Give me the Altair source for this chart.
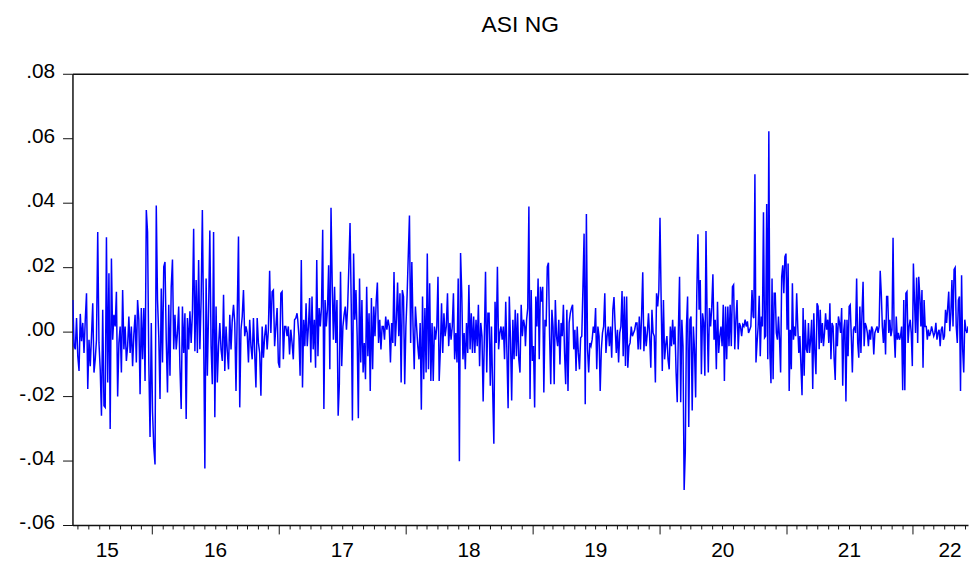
import altair as alt
import pandas as pd

TITLE = "ASI NG"

# Daily returns, in four consecutive stretches
seg_a = [
    0.0098, -0.0045, -0.0055, 0.0042, -0.0076, -0.0122, 0.0055, -0.0030, 0.0027, -0.0066,
    0.0037, 0.0119, -0.0178, -0.0025, -0.0107, -0.0014, 0.0088, -0.0127, -0.0086, -0.0025,
    0.0309, -0.0035, -0.0117, -0.0261, 0.0068, -0.0230, -0.0235, 0.0293, -0.0158, 0.0181,
    -0.0302, 0.0227, -0.0025, 0.0052, 0.0016, 0.0124, -0.0201, -0.0035, 0.0016, -0.0127,
    0.0129, -0.0055, 0.0016, -0.0091, -0.0045, 0.0047, -0.0066, 0.0016, -0.0107, -0.0009,
    0.0052, -0.0096, 0.0098, 0.0037, -0.0194, 0.0073, -0.0086, 0.0073, -0.0153, 0.0377,
    0.0309, -0.0096, -0.0327, 0.0027, -0.0250, -0.0358, -0.0412, 0.0391, 0.0098, -0.0014,
    -0.0209, 0.0134, -0.0096, 0.0201, 0.0216, -0.0025, -0.0189, 0.0083, -0.0137, 0.0139,
    0.0224, -0.0055, 0.0052, -0.0055, -0.0004, 0.0078, -0.0112, -0.0240, 0.0078, -0.0066,
    0.0057, -0.0271, 0.0042, -0.0055, 0.0063, -0.0035, 0.0057, 0.0319, -0.0061, 0.0160,
    -0.0066, 0.0222, -0.0055, 0.0098, 0.0377, 0.0006, -0.0425, 0.0165, -0.0137, 0.0068,
    0.0314, -0.0045, -0.0163, 0.0309, -0.0266, 0.0078, -0.0158, -0.0045, 0.0027, -0.0055,
    -0.0091, 0.0114, -0.0122, 0.0016, -0.0061, -0.0117, 0.0052, -0.0055, 0.0037, 0.0083,
    0.0027, -0.0184, 0.0057, 0.0295, -0.0235, 0.0006, 0.0047, 0.0129, -0.0014, 0.0016,
    -0.0004, -0.0096, 0.0037, -0.0045, -0.0086, 0.0042, -0.0066, -0.0173, 0.0042, -0.0035,
    -0.0066, -0.0199, 0.0016, -0.0081, -0.0014, 0.0022, -0.0055, 0.0006, 0.0189, -0.0004,
    0.0124, 0.0129, -0.0045, 0.0016, 0.0073, -0.0096, -0.0112, 0.0119, 0.0124, -0.0086,
    0.0016, 0.0016, -0.0014, 0.0016, -0.0071, 0.0006, -0.0035, -0.0086, 0.0037, 0.0042,
    0.0057,
]
seg_b = [
    0.0037, -0.0014, -0.0137, 0.0222, -0.0173, 0.0037, -0.0045, 0.0088, -0.0045, 0.0016,
    0.0104, -0.0096, 0.0109, -0.0055, 0.0037, -0.0112, 0.0222, -0.0076, 0.0073, 0.0016,
    0.0078, 0.0316, -0.0240, 0.0098, 0.0016, 0.0068, 0.0206, -0.0117, 0.0384, 0.0150,
    -0.0025, 0.0139, -0.0035, 0.0098, -0.0261, -0.0163, 0.0186, -0.0107, 0.0016, 0.0052,
    0.0078, 0.0006, 0.0078, 0.0201, 0.0337, 0.0088, -0.0276, 0.0242, 0.0037, 0.0129,
    -0.0014, -0.0269, 0.0165, -0.0096, 0.0098, -0.0127, -0.0035, -0.0148, 0.0139, -0.0076,
    0.0057, -0.0184, 0.0104, -0.0117, 0.0078, -0.0014, 0.0093, 0.0152, -0.0035, 0.0037,
    -0.0055, 0.0016, 0.0016, -0.0025, 0.0047, 0.0006, 0.0037, 0.0016, -0.0096, 0.0027,
    -0.0035, 0.0185, -0.0045, 0.0037, 0.0152, -0.0014, 0.0119, -0.0158, 0.0129, 0.0109,
    -0.0163, 0.0016, 0.0109, 0.0237, 0.0360, -0.0035, 0.0216, 0.0016, -0.0117, 0.0078,
    0.0016, -0.0045, -0.0086, 0.0027, -0.0242, 0.0109, -0.0148, 0.0073, -0.0127, 0.0242,
    -0.0117, 0.0150, -0.0153, 0.0027, -0.0153, 0.0016, -0.0025, 0.0016, 0.0170, -0.0153,
    -0.0055, 0.0088, -0.0066, 0.0057, -0.0014, 0.0016, 0.0119, -0.0045, 0.0027, -0.0025,
    0.0016, 0.0119, -0.0086, -0.0004, -0.0096, 0.0165, -0.0402, 0.0244, 0.0119, -0.0086,
    -0.0004, -0.0117, 0.0027, -0.0066, 0.0145, -0.0055, 0.0057, -0.0066, 0.0047, -0.0066,
    0.0037, -0.0045, 0.0083, -0.0107, 0.0027, -0.0014, -0.0217, -0.0019, 0.0186, -0.0127,
    0.0057, 0.0057, -0.0168, 0.0016, -0.0178, -0.0348, 0.0093, -0.0035, 0.0201, -0.0055,
    -0.0004, 0.0016, -0.0025, 0.0016, -0.0086, 0.0093, -0.0066, -0.0238, 0.0109, -0.0025,
    -0.0214, 0.0037, -0.0086, 0.0068, -0.0076, 0.0057, -0.0086, -0.0127, 0.0083, -0.0014,
    0.0037, 0.0016,
]
seg_c = [
    -0.0045, 0.0037, 0.0073, 0.0388, -0.0209, 0.0129, -0.0091, -0.0045, -0.0235, 0.0109,
    0.0016, 0.0165, -0.0086, 0.0139, 0.0093, 0.0139, -0.0189, 0.0037, 0.0016, 0.0201,
    0.0214, -0.0014, -0.0163, 0.0068, 0.0016, -0.0163, 0.0098, -0.0014, -0.0045, 0.0037,
    -0.0102, 0.0027, -0.0014, 0.0083, -0.0066, -0.0163, 0.0068, -0.0184, 0.0027, 0.0057,
    0.0073, 0.0083, -0.0055, 0.0006, -0.0122, 0.0016, -0.0066, -0.0117, -0.0019, -0.0014,
    0.0139, 0.0304, -0.0225, 0.0365, -0.0055, -0.0127, -0.0035, -0.0045, -0.0025, 0.0016,
    -0.0004, 0.0073, -0.0117, 0.0016, -0.0014, -0.0184, -0.0055, -0.0004, 0.0016, 0.0119,
    -0.0066, -0.0014, 0.0016, -0.0045, 0.0016, -0.0081, 0.0068, 0.0107, 0.0016, -0.0066,
    0.0006, -0.0096, -0.0004, 0.0016, 0.0126, -0.0076, 0.0109, -0.0107, 0.0109, -0.0112,
    -0.0045, -0.0035, 0.0016, -0.0014, -0.0004, 0.0006, 0.0027, 0.0027, -0.0055, 0.0047,
    -0.0055, 0.0052, 0.0184, -0.0061, 0.0016, -0.0045, -0.0004, 0.0057, -0.0014, -0.0112,
    0.0068, -0.0004, -0.0014, -0.0158, 0.0119, 0.0078, 0.0129, 0.0353, 0.0098, -0.0122,
    0.0098, -0.0086, -0.0040, -0.0014, -0.0086, -0.0117, 0.0016, -0.0045, 0.0037, -0.0040,
    0.0016, -0.0127, -0.0219, 0.0006, 0.0170, -0.0219, 0.0037, -0.0045, -0.0491, -0.0373,
    0.0016, 0.0109, -0.0296, 0.0037, 0.0047, -0.0245, 0.0016, -0.0055, -0.0204, 0.0119,
    0.0302, 0.0068, 0.0160, -0.0132, 0.0057, 0.0027, -0.0137, 0.0312, 0.0037, -0.0127,
    0.0073, 0.0016, 0.0076, 0.0178, -0.0025, 0.0037, -0.0117, 0.0093, -0.0066, -0.0014,
    0.0016, -0.0045, 0.0083, -0.0153, 0.0078, -0.0086, 0.0078, -0.0045, 0.0083, -0.0045,
    0.0139, 0.0145, -0.0055, 0.0037, 0.0098, -0.0055, 0.0027, 0.0016, -0.0014, 0.0022,
    0.0016, 0.0037, 0.0016, 0.0032, -0.0004, 0.0006, 0.0016, 0.0129, 0.0047,
]
seg_d = [
    0.0042, 0.0488, -0.0096, -0.0035, 0.0016, 0.0111, -0.0076, 0.0047, 0.0016, 0.0370,
    -0.0019, -0.0014, 0.0396, -0.0086, 0.0622, -0.0066, -0.0160, 0.0165, -0.0148, 0.0119,
    0.0119, -0.0004, -0.0025, 0.0047, -0.0025, -0.0127, 0.0170, 0.0206, 0.0119, 0.0232,
    0.0242, 0.0006, 0.0211, -0.0184, 0.0006, -0.0117, 0.0150, -0.0025, 0.0016, -0.0014,
    0.0119, 0.0016, -0.0066, -0.0014, -0.0107, -0.0197, 0.0073, -0.0137, 0.0037, -0.0055,
    -0.0066, 0.0027, -0.0066, -0.0025, 0.0037, -0.0178, 0.0057, -0.0066, -0.0132, 0.0088,
    0.0078, -0.0055, 0.0068, -0.0035, 0.0027, -0.0045, -0.0004, 0.0057, 0.0006, 0.0037,
    -0.0035, 0.0088, -0.0086, 0.0027, 0.0016, -0.0086, -0.0150, 0.0027, -0.0045, 0.0047,
    0.0027, -0.0004, 0.0073, -0.0168, 0.0006, 0.0037, -0.0217, 0.0037, -0.0076, 0.0078,
    0.0083, -0.0014, -0.0127, 0.0006, 0.0016, -0.0004, 0.0165, -0.0035, -0.0081, 0.0078,
    -0.0066, 0.0057, 0.0155, -0.0045, 0.0027, 0.0016, -0.0004, -0.0045, 0.0006, -0.0025,
    0.0016, 0.0006, -0.0071, -0.0004, 0.0006, 0.0016, -0.0004, 0.0016, 0.0189, 0.0119,
    0.0016, -0.0035, 0.0037, -0.0071, 0.0109, 0.0109, -0.0004, 0.0037, -0.0014, 0.0006,
    0.0291, -0.0004, -0.0081, 0.0047, -0.0025, -0.0004, -0.0025, -0.0014, 0.0016, -0.0182,
    0.0098, -0.0182, 0.0119, 0.0124, -0.0035, 0.0016, 0.0037, -0.0004, -0.0107, 0.0211,
    0.0098, -0.0004, 0.0168, -0.0035, 0.0170, 0.0109, 0.0016, 0.0129, -0.0112, 0.0098,
    0.0016, 0.0016, -0.0025, 0.0006, -0.0014, -0.0004, 0.0016, 0.0001, -0.0014, -0.0004,
    0.0027, -0.0025, -0.0004, 0.0006, -0.0045, 0.0006, 0.0016, -0.0025, -0.0014, 0.0068,
    0.0027, 0.0073, 0.0124, 0.0001, 0.0057, 0.0160, 0.0016, 0.0193, 0.0199, 0.0016,
    -0.0035, 0.0098, 0.0109, -0.0184, 0.0175, -0.0055, -0.0127, 0.0037, 0.0006, -0.0004,
    0.0016,
]

# date span covered by each stretch
seg_spans = [
    ("2015-05-18", "2017-02-22"),
    ("2017-02-24", "2018-12-10"),
    ("2018-12-12", "2020-09-28"),
    ("2020-09-30", "2022-06-09"),
]

y_ticks = [-0.06, -0.04, -0.02, 0.0, 0.02, 0.04, 0.06, 0.08]
year_labels = [2015, 2016, 2017, 2018, 2019, 2020, 2021, 2022]

frames = []
for vals, (s, e) in zip([seg_a, seg_b, seg_c, seg_d], seg_spans):
    frames.append(pd.DataFrame({"date": pd.date_range(s, e, periods=len(vals)), "value": vals}))
df = pd.concat(frames, ignore_index=True)

x_scale = alt.Scale(
    domain=[alt.DateTime(year=2015, month=5, date=17), alt.DateTime(year=2022, month=6, date=9)],
    nice=False,
)
month_ticks = [
    alt.DateTime(year=y, month=m, date=1)
    for y in range(2015, 2023)
    for m in range(1, 13)
    if (2015, 6) <= (y, m) <= (2022, 6)
]
label_pos = []
for yr in year_labels:
    if yr == 2015:
        label_pos.append(alt.DateTime(year=2015, month=8, date=24))
    elif yr == 2022:
        label_pos.append(alt.DateTime(year=2022, month=4, date=17))
    else:
        label_pos.append(alt.DateTime(year=yr, month=7, date=1))

FONT = "Liberation Sans"

line = alt.Chart(df).mark_line(color="#0000FF", strokeWidth=1.5, clip=True).encode(
    x=alt.X(
        "date:T",
        scale=x_scale,
        axis=alt.Axis(
            orient="bottom", values=month_ticks, labels=False, title=None, grid=False,
            domainColor="#111111", domainWidth=1.5, tickColor="#111111", tickWidth=1,
            tickSize={"condition": {"test": "month(datum.value) == 0", "value": 9}, "value": 4},
        ),
    ),
    y=alt.Y(
        "value:Q",
        scale=alt.Scale(domain=[-0.06, 0.08], nice=False, zero=False),
        axis=alt.Axis(
            values=y_ticks, title=None, grid=False,
            labelExpr="(datum.value < 0 ? '-' : '') + replace(format(abs(datum.value), '.2f'), '0.', '.')",
            tickSize=10, tickColor="#111111", labelPadding=8, labelFontSize=21, labelFont=FONT,
            labelColor="black", labelBaseline="middle", labelOffset=-2,
            domainColor="#111111", domainWidth=1.5,
        ),
    ),
)

labels = alt.Chart(df).mark_rule(opacity=0).encode(
    x=alt.X(
        "date:T",
        scale=x_scale,
        axis=alt.Axis(
            orient="bottom", values=label_pos, labelExpr="timeFormat(datum.value, '%y')",
            ticks=False, tickSize=0, domain=False, grid=False, title=None, labelPadding=15,
            labelFontSize=21, labelFont=FONT, labelColor="black", labelOverlap=False, labelFlush=False,
        ),
    )
)

top_border = alt.Chart(df).mark_rule(opacity=0).encode(
    x=alt.X(
        "date:T",
        scale=x_scale,
        axis=alt.Axis(
            orient="top", labels=False, ticks=False, domain=True, grid=False, title=None,
            domainColor="#111111", domainWidth=1.5,
        ),
    )
)

chart = (
    alt.layer(line, labels, top_border)
    .resolve_axis(x="independent")
    .properties(
        width=903,
        height=455,
        autosize=alt.AutoSizeParams(type="none"),
        padding={"left": 65, "top": 64, "right": 1, "bottom": 38},
        title=alt.TitleParams(
            TITLE, fontSize=23, font=FONT, fontWeight="normal", color="black",
            anchor="middle", frame="group", offset=24,
        ),
    )
    .configure_view(stroke=None)
)

chart.save("out.html", embed_options={"renderer": "svg", "actions": False})
